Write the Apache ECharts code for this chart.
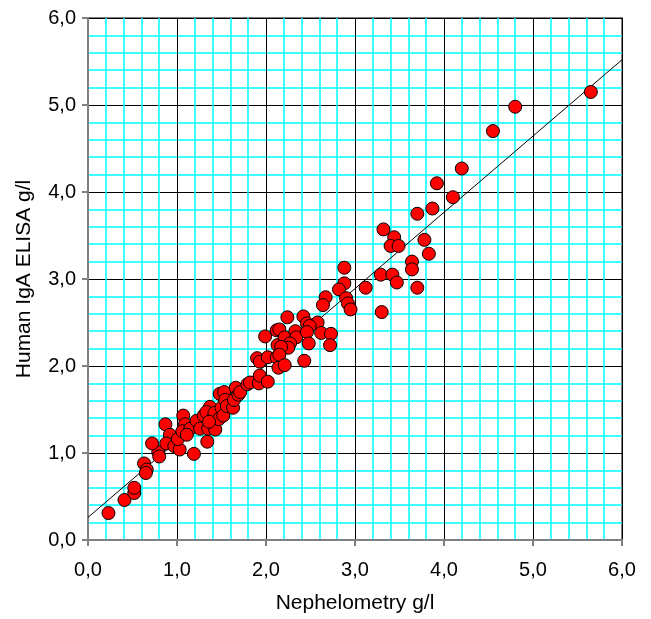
<!DOCTYPE html>
<html>
<head>
<meta charset="utf-8">
<script src="https://cdn.jsdelivr.net/npm/echarts@6/dist/echarts.min.js"></script>
<style>
  html, body { margin: 0; padding: 0; background: #fff; }
  #chart { width: 651px; height: 619px; }
</style>
</head>
<body>
<div id="chart"></div>
<script>
// nephelometry (x) and ELISA (y) values, g/l
const nephelometry = [
  0.23, 0.41, 0.52, 0.52, 0.63, 0.66, 0.65, 0.79, 0.80, 0.72,
  0.87, 0.92, 0.88, 0.97, 1.03, 1.01, 1.19, 1.34, 1.07, 1.09,
  1.06, 1.15, 1.22, 1.26, 1.35, 1.43, 1.30, 1.37, 1.33, 1.42,
  1.50, 1.47, 1.36, 1.11, 1.52, 1.48, 1.53, 1.54, 1.56, 1.63,
  1.64, 1.66, 1.69, 1.71, 1.79, 1.82, 1.92, 1.93, 2.02, 1.90,
  1.93, 2.02, 1.99, 2.12, 2.14, 2.12, 2.13, 2.88, 2.88, 2.82,
  2.90, 2.92, 2.95, 2.67, 2.64, 2.58, 2.42, 2.46, 2.49, 2.24,
  2.15, 2.21, 2.33, 2.34, 2.27, 2.25, 2.17, 2.46, 2.62, 2.73,
  2.48, 2.72, 2.15, 2.43, 2.21, 4.20, 3.92, 4.10, 3.87, 3.70,
  3.32, 3.44, 3.40, 3.49, 3.78, 3.83, 3.64, 3.64, 3.29, 3.42,
  3.47, 3.70, 3.12, 3.30, 5.65, 4.80, 4.55
];
const elisa = [
  0.31, 0.46, 0.54, 0.60, 0.88, 0.81, 0.77, 1.01, 0.96, 1.11,
  1.33, 1.21, 1.11, 1.08, 1.04, 1.16, 0.99, 1.13, 1.43, 1.33,
  1.25, 1.28, 1.37, 1.28, 1.28, 1.27, 1.43, 1.53, 1.47, 1.46,
  1.52, 1.39, 1.36, 1.21, 1.43, 1.68, 1.70, 1.61, 1.54, 1.52,
  1.61, 1.75, 1.67, 1.70, 1.79, 1.81, 1.80, 1.89, 1.82, 2.09,
  2.05, 2.10, 2.34, 2.10, 1.98, 2.41, 2.24, 3.13, 2.95, 2.88,
  2.78, 2.72, 2.65, 2.79, 2.70, 2.50, 2.57, 2.49, 2.46, 2.56,
  2.42, 2.33, 2.40, 2.33, 2.26, 2.21, 2.22, 2.39, 2.38, 2.37,
  2.26, 2.24, 2.13, 2.06, 2.01, 4.27, 4.10, 3.94, 3.81, 3.75,
  3.57, 3.48, 3.38, 3.38, 3.45, 3.29, 3.20, 3.11, 3.05, 3.05,
  2.96, 2.90, 2.90, 2.62, 5.15, 4.98, 4.70
];
// regression line end points
const fitX = [0, 6];
const fitY = [0.26, 5.52];

const points = nephelometry.map((x, i) => [x, elisa[i]]);
const fitLine = fitX.map((x, i) => [x, fitY[i]]);

const fmt = (v) => v.toFixed(1).replace('.', ',');
const font = 'Liberation Sans, Arial, sans-serif';

const chart = echarts.init(document.getElementById('chart'));

const axisCommon = {
  type: 'value',
  min: 0,
  max: 6,
  interval: 1,
  nameLocation: 'middle',
  nameTextStyle: { color: '#000', fontSize: 21, fontFamily: font },
  axisLine: { show: true, onZero: false, lineStyle: { color: '#808080', width: 2 } },
  axisTick: { show: true, inside: false, length: 6, lineStyle: { color: '#808080', width: 2 } },
  axisLabel: { color: '#000', fontSize: 20, fontFamily: font, formatter: fmt },
  splitLine: { show: true, lineStyle: { color: '#000', width: 1 } },
  minorTick: { show: false, splitNumber: 5 },
  minorSplitLine: { show: true, lineStyle: { color: '#00ffff', width: 1.5 } }
};

chart.setOption({
  animation: false,
  backgroundColor: '#fff',
  grid: {
    left: 88, right: 29, top: 18, bottom: 76,
    show: true, borderColor: '#808080', borderWidth: 2, backgroundColor: 'transparent'
  },
  xAxis: Object.assign({}, axisCommon, {
    name: 'Nephelometry g/l',
    nameGap: 53,
    axisLabel: Object.assign({}, axisCommon.axisLabel, { margin: 20 })
  }),
  yAxis: Object.assign({}, axisCommon, {
    name: 'Human IgA ELISA g/l',
    nameGap: 53,
    axisLabel: Object.assign({}, axisCommon.axisLabel, { margin: 12 })
  }),
  series: [
    {
      type: 'line',
      data: fitLine,
      symbol: 'none',
      lineStyle: { color: '#000', width: 1 },
      z: 3
    },
    {
      type: 'scatter',
      data: points,
      symbol: 'circle',
      symbolSize: 13,
      itemStyle: { color: '#ff0000', borderColor: '#000', borderWidth: 1, opacity: 1 },
      z: 4
    }
  ]
});
</script>
</body>
</html>
